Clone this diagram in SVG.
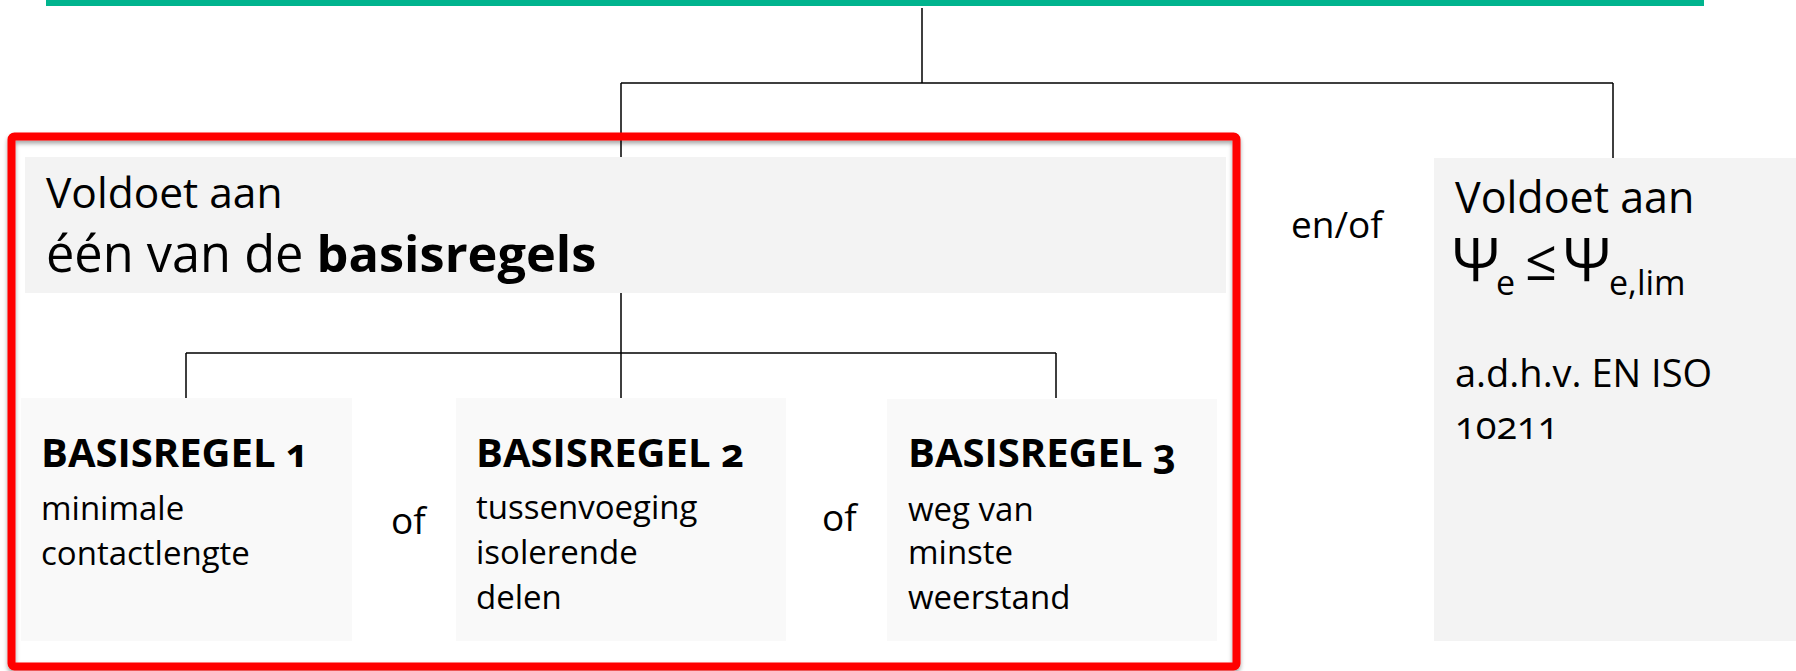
<svg xmlns="http://www.w3.org/2000/svg" width="1796" height="671" viewBox="0 0 1796 671">
<defs>
<style>
text{font-family:"Open Sans","Noto Sans","DejaVu Sans",sans-serif;fill:#000;font-variant-numeric:oldstyle-nums}
.hdr{fill:#f3f3f3}
.sub{fill:#f9f9f9}
.conn{stroke:#000;stroke-width:1.5;fill:none}
.body{font-size:33px}
.title{font-size:40px;font-weight:bold}
.or{font-size:37px}
.big{font-size:60px}
.sb{font-size:34px}
</style>
<filter id="shadow" x="-5%" y="-5%" width="110%" height="110%">
<feDropShadow dx="0" dy="3" stdDeviation="2" flood-color="#000" flood-opacity="0.35"/>
</filter>
</defs>
<rect width="1796" height="671" fill="#fff"/>
<rect id="topbar" x="46" y="0" width="1658" height="6" fill="#00b48e"/>

<g id="connectors">
<path class="conn" d="M922 8V83M621 83H1613M621 83V157M1613 83V158M621 293V398M186 353H1056M186 353V398M1056 353V398"/>
</g>

<g id="group-basisregels">
<rect x="11.5" y="136.5" width="1225" height="530" rx="3" fill="none" stroke="#ff0000" stroke-width="8" filter="url(#shadow)"/>
</g>

<g id="node-basisregels">
<rect class="hdr" x="25" y="157" width="1201" height="136"/>
<text x="46" y="208" font-size="42.5">Voldoet aan</text>
<text x="46" y="272" font-size="50.5">één van de <tspan font-weight="bold">basisregels</tspan></text>
</g>

<g id="node-br1">
<rect class="sub" x="21" y="398" width="331" height="243"/>
<text class="title" x="41" y="467">BASISREGEL 1</text>
<text class="body" x="41" y="520">minimale</text>
<text class="body" x="41" y="565">contactlengte</text>
</g>

<text class="or" x="391" y="534">of</text>

<g id="node-br2">
<rect class="sub" x="456" y="398" width="330" height="243"/>
<text class="title" x="476" y="467">BASISREGEL 2</text>
<text class="body" x="476" y="519">tussenvoeging</text>
<text class="body" x="476" y="564">isolerende</text>
<text class="body" x="476" y="609">delen</text>
</g>

<text class="or" x="822" y="531">of</text>

<g id="node-br3">
<rect class="sub" x="887" y="399" width="330" height="242"/>
<text class="title" x="908" y="467">BASISREGEL 3</text>
<text class="body" x="908" y="521">weg van</text>
<text class="body" x="908" y="564">minste</text>
<text class="body" x="908" y="609">weerstand</text>
</g>

<text x="1291" y="238" font-size="37">en/of</text>

<g id="node-psi">
<rect class="hdr" x="1434" y="158" width="362" height="483"/>
<text x="1455" y="213" font-size="43">Voldoet aan</text>
<text class="big" x="1452" y="281">Ψ<tspan class="sb" x="1496" y="295">e</tspan><tspan x="1525" y="280" font-size="56">≤</tspan><tspan x="1563" y="281">Ψ</tspan><tspan class="sb" x="1609" y="295">e,lim</tspan></text>
<text x="1455" y="387" font-size="38">a.d.h.v. EN ISO</text>
<text x="1455" y="439" font-size="38">10211</text>
</g>
</svg>
